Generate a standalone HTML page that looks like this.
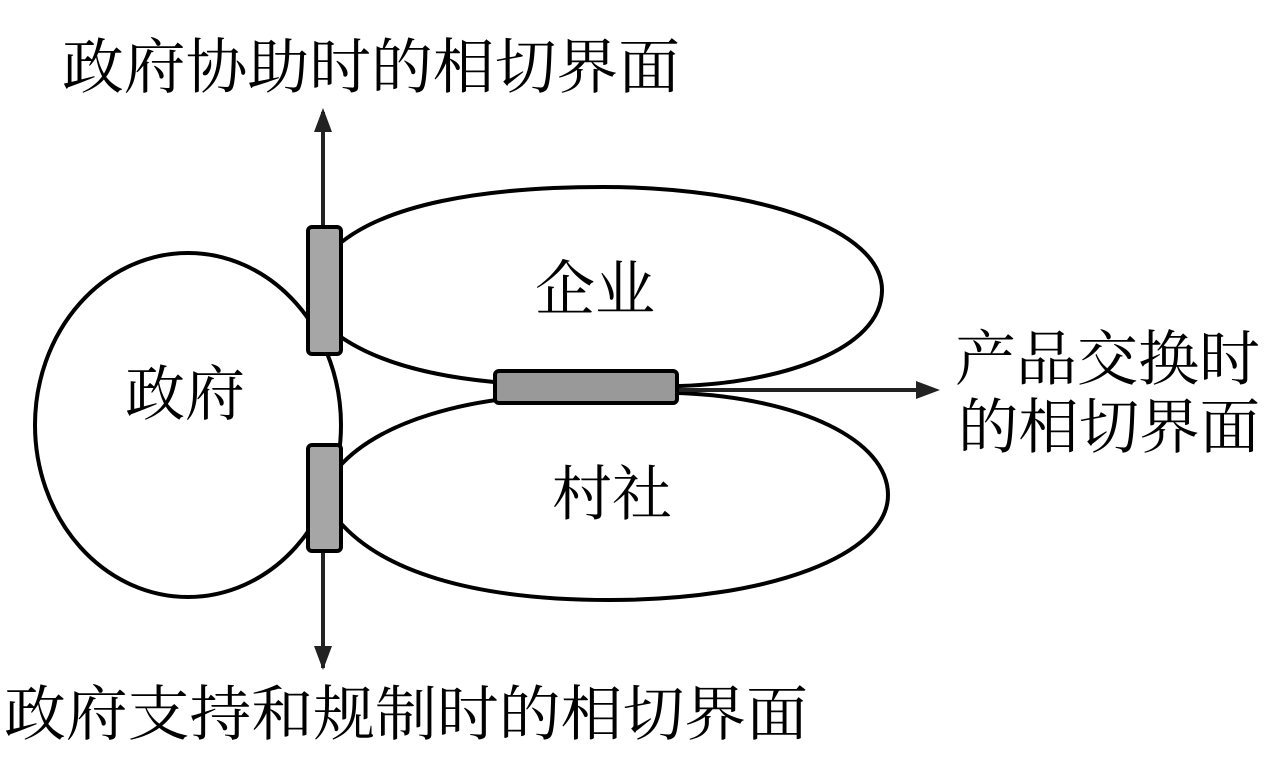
<!DOCTYPE html>
<html><head><meta charset="utf-8"><style>
html,body{margin:0;padding:0;background:#fff;}
svg{display:block;}
text{font-family:"Noto Serif CJK SC","Liberation Serif",serif;fill:#000;}
</style></head><body>
<svg width="1267" height="780" viewBox="0 0 1267 780" xmlns="http://www.w3.org/2000/svg">
<g fill="none" stroke="#000" stroke-width="4">
<ellipse cx="188" cy="425" rx="153" ry="172"/>
<path d="M338,245 C385,205 480,187 603,187 C760,187 882,230 882,290 C882,350 780,383 680,386 L494,382 C420,375 370,358 338,335"/>
<path d="M338,468 C380,420 470,397 560,395 L680,393 C800,398 888,440 888,495 C888,555 770,600 610,600 C470,600 380,570 338,520"/>
</g>
<g stroke="#222" stroke-width="4">
<line x1="323" y1="228" x2="323" y2="112"/>
<line x1="323" y1="552" x2="323" y2="668"/>
<line x1="678" y1="390" x2="920" y2="390"/>
</g>
<path d="M323,108 L314,132 L332,132 z" fill="#222"/>
<path d="M323,670 L314,646 L332,646 z" fill="#222"/>
<path d="M940,390 L916,381 L916,399 z" fill="#222"/>
<g fill="#a6a6a6" stroke="#000" stroke-width="4">
<rect x="308" y="227" width="33" height="127" rx="4"/>
<rect x="308" y="445" width="33" height="106" rx="4"/>
<rect x="495" y="371" width="182" height="32" rx="4" fill="#999"/>
</g>
<text x="62" y="88" font-size="60" textLength="618" lengthAdjust="spacingAndGlyphs">政府协助时的相切界面</text>
<text x="4" y="735" font-size="60" textLength="804" lengthAdjust="spacingAndGlyphs">政府支持和规制时的相切界面</text>
<text x="955" y="380" font-size="60" textLength="305" lengthAdjust="spacingAndGlyphs">产品交换时</text>
<text x="958" y="448" font-size="60" textLength="302" lengthAdjust="spacingAndGlyphs">的相切界面</text>
<text x="535" y="310" font-size="60">企业</text>
<text x="125" y="415" font-size="60">政府</text>
<text x="552" y="515" font-size="60">村社</text>
</svg>
</body></html>
